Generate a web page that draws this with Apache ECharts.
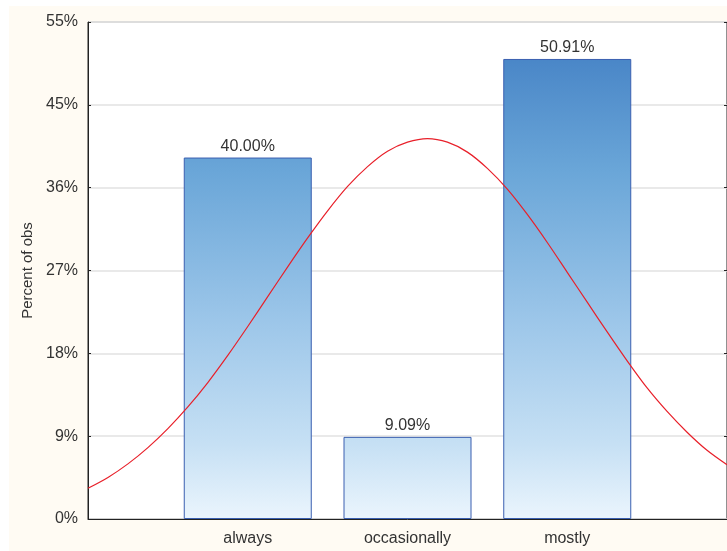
<!DOCTYPE html>
<html>
<head>
<meta charset="utf-8">
<script src="https://cdn.jsdelivr.net/npm/echarts@6/dist/echarts.min.js"></script>
<style>
html,body{margin:0;padding:0;background:#ffffff;}
#c{position:absolute;left:9px;top:6px;width:718px;height:545px;}
</style>
</head>
<body>
<div id="c"></div>
<script>
// Data
const categories = ['always', 'occasionally', 'mostly'];
const categoryPositions = [1, 2, 3];
const percentValues = [40.00, 9.09, 50.91];
// Fitted normal curve (x position, percent)
const curveX = [0, 0.125, 0.25, 0.375, 0.5, 0.625, 0.75, 0.875, 1, 1.125, 1.25, 1.375, 1.5, 1.625, 1.75, 1.875, 2, 2.125, 2.25, 2.375, 2.5, 2.625, 2.75, 2.875, 3, 3.125, 3.25, 3.375, 3.5, 3.625, 3.75, 3.875, 4];
const curveY = [3.4, 4.6, 6.1, 7.9, 10.0, 12.4, 15.1, 18.1, 21.3, 24.6, 27.9, 31.1, 34.1, 36.8, 39.0, 40.7, 41.7, 42.1, 41.7, 40.6, 38.8, 36.5, 33.7, 30.6, 27.3, 24.0, 20.7, 17.5, 14.5, 11.9, 9.6, 7.6, 6.0];
const yTickStep = 55 / 6;

const chart = echarts.init(document.getElementById('c'));
const barData = categoryPositions.map((p, i) => [p, percentValues[i]]);
const curveData = curveX.map((x, i) => [x, curveY[i]]);
const gridTop = 16, gridBottomPx = 513;

chart.setOption({
  backgroundColor: '#fffbf3',
  animation: false,
  grid: { left: 79, top: gridTop, right: -1, bottom: 32, show: true, backgroundColor: '#ffffff', borderColor: '#222', borderWidth: 1 },
  xAxis: {
    type: 'value', min: 0, max: 4, interval: 1,
    axisLine: { show: true, onZero: false, lineStyle: { color: '#222', width: 1 } },
    axisTick: { show: true, inside: true, length: 4, customValues: categoryPositions, lineStyle: { color: '#222' } },
    axisLabel: {
      customValues: categoryPositions,
      formatter: v => { const i = categoryPositions.indexOf(Math.round(v)); return i >= 0 ? categories[i] : ''; },
      color: '#333', fontSize: 16, fontFamily: 'Liberation Sans, Arial, sans-serif', margin: 12
    },
    splitLine: { show: false }
  },
  yAxis: [{
    type: 'value', min: 0, max: 55, interval: yTickStep,
    name: 'Percent of obs', nameLocation: 'middle', nameGap: 47,
    nameTextStyle: { color: '#333', fontSize: 15, fontFamily: 'Liberation Sans, Arial, sans-serif' },
    axisLine: { show: true, lineStyle: { color: '#222' } },
    axisTick: { show: true, inside: true, length: 3, lineStyle: { color: '#222' } },
    axisLabel: {
      formatter: v => Math.floor(Math.round(v * 1000) / 1000) + '%',
      color: '#333', fontSize: 16, fontFamily: 'Liberation Sans, Arial, sans-serif', margin: 10
    },
    splitLine: { show: true, lineStyle: { color: '#e2e2e2', width: 1.5 } }
  }, {
    type: 'value', min: 0, max: 55, interval: yTickStep, position: 'right',
    axisLine: { show: true, lineStyle: { color: '#222' } },
    axisTick: { show: true, inside: true, length: 3, lineStyle: { color: '#222' } },
    axisLabel: { show: false },
    splitLine: { show: false }
  }],
  series: [{
    type: 'bar',
    data: barData,
    barWidth: 128,
    itemStyle: {
      color: new echarts.graphic.LinearGradient(0, gridTop, 0, gridBottomPx, [
        { offset: 0, color: '#3f7cc2' },
        { offset: 0.3, color: '#6aa6d8' },
        { offset: 0.6, color: '#9cc6e9' },
        { offset: 0.85, color: '#c6e0f4' },
        { offset: 1, color: '#ebf5fd' }
      ], true),
      borderColor: '#3a5fb0', borderWidth: 1
    },
    label: {
      show: true, position: 'top', distance: 3,
      formatter: p => p.value[1].toFixed(2) + '%',
      color: '#333', fontSize: 16, fontFamily: 'Liberation Sans, Arial, sans-serif'
    },
    z: 2
  }, {
    type: 'line',
    data: curveData,
    smooth: 0.3,
    symbol: 'none',
    lineStyle: { color: '#e8202a', width: 1.2 },
    clip: true,
    z: 3
  }]
});
</script>
</body>
</html>
